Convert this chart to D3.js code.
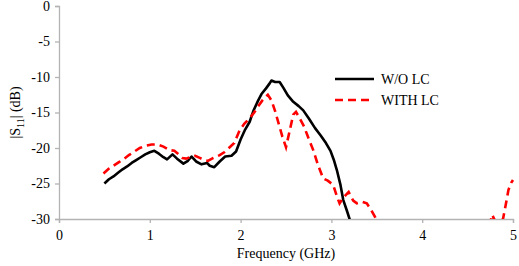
<!DOCTYPE html>
<html>
<head>
<meta charset="utf-8">
<script src="https://cdn.jsdelivr.net/npm/d3@7"></script>
<style>
  body { margin: 0; background: #fff; }
</style>
</head>
<body>
<div id="chart"></div>
<script>
// series (GHz, dB)
var woFreq = [0.50, 0.55, 0.60, 0.65, 0.70, 0.75, 0.80, 0.85, 0.90, 0.95, 1.00, 1.05, 1.10, 1.15, 1.19, 1.25, 1.30, 1.37, 1.42, 1.46,
  1.51, 1.57, 1.63, 1.66, 1.71, 1.77, 1.83, 1.90, 1.95, 2.00, 2.05, 2.10, 2.14, 2.19, 2.23, 2.28, 2.32, 2.34, 2.38, 2.43,
  2.47, 2.52, 2.58, 2.64, 2.69, 2.75, 2.82, 2.88, 2.94, 2.99, 3.03, 3.06, 3.10, 3.13, 3.17, 3.20, 3.22];
var woS11 = [-25.0, -24.4, -24.0, -23.5, -23.0, -22.6, -22.1, -21.7, -21.3, -20.9, -20.6, -20.4, -20.8, -21.3, -21.6, -20.9, -21.5, -22.2, -21.8, -21.2,
  -21.9, -22.3, -22.1, -22.5, -22.7, -21.9, -21.2, -21.1, -20.5, -18.8, -17.4, -16.3, -14.8, -13.4, -12.4, -11.6, -10.9, -10.5, -10.7, -10.7,
  -11.5, -12.6, -13.5, -14.1, -14.7, -15.8, -17.2, -18.2, -19.3, -20.4, -21.8, -23.1, -25.2, -27.3, -28.8, -30.0, -31.0];

var lcFreq = [0.49, 0.55, 0.60, 0.66, 0.71, 0.77, 0.83, 0.89, 0.95, 1.02, 1.08, 1.15, 1.22, 1.27, 1.31, 1.36, 1.40, 1.46, 1.50, 1.55,
  1.60, 1.64, 1.70, 1.77, 1.82, 1.88, 1.93, 1.99, 2.04, 2.10, 2.15, 2.19, 2.24, 2.30, 2.34, 2.38, 2.42, 2.46, 2.50, 2.54,
  2.58, 2.61, 2.65, 2.70, 2.75, 2.80, 2.85, 2.91, 2.96, 3.02, 3.06, 3.09, 3.13, 3.19, 3.24, 3.28, 3.34, 3.39, 3.44, 3.48, 3.52,
  4.10,
  4.74, 4.77, 4.80, 4.85, 4.89, 4.92, 4.95, 4.98, 5.00];
var lcS11 = [-23.6, -22.9, -22.5, -22.0, -21.6, -21.0, -20.5, -20.0, -19.7, -19.5, -19.5, -19.8, -20.3, -20.4, -20.8, -21.4, -21.5, -21.2, -21.1, -21.4,
  -21.7, -21.8, -21.4, -21.0, -20.6, -19.9, -19.3, -17.5, -16.6, -15.8, -15.0, -14.2, -13.3, -12.5, -13.3, -14.8, -16.6, -18.4, -19.9, -17.6,
  -15.3, -14.9, -15.8, -17.0, -18.7, -20.3, -22.3, -24.3, -24.6, -25.2, -26.8, -27.8, -27.0, -26.2, -27.4, -27.8, -27.6, -27.8, -28.8, -29.7, -31.0,
  null,
  -31.0, -29.4, -30.2, -30.5, -30.0, -28.0, -25.9, -24.9, -24.5];

var xTicks = [0, 1, 2, 3, 4, 5];
var yTicks = [0, -5, -10, -15, -20, -25, -30];
var seriesNames = ["W/O LC", "WITH LC"];

var W = 519, H = 266;
var margin = { top: 6, right: 6, bottom: 47, left: 59 };
var serif = "Liberation Serif";

var svg = d3.select("#chart").append("svg")
    .attr("width", W)
    .attr("height", H)
    .attr("font-family", serif);

var x = d3.scaleLinear().domain([0, 5]).range([margin.left, W - margin.right]);
var y = d3.scaleLinear().domain([-30, 0]).range([H - margin.bottom, margin.top]);

svg.append("defs").append("clipPath").attr("id", "clip")
    .append("rect")
    .attr("x", x(0)).attr("y", y(0))
    .attr("width", x(5) - x(0) + 2)
    .attr("height", y(-30) - y(0));

// axes
var xAxis = svg.append("g")
    .attr("transform", "translate(0," + y(-30) + ")")
    .call(d3.axisBottom(x).tickValues(xTicks).tickSize(4).tickPadding(5).tickFormat(d3.format("d")));
var yAxis = svg.append("g")
    .attr("transform", "translate(" + x(0) + ",0)")
    .call(d3.axisLeft(y).tickValues(yTicks).tickSize(4).tickPadding(5).tickFormat(function (d) { return d; }));

[xAxis, yAxis].forEach(function (a) {
    a.attr("font-family", serif).attr("font-size", 14);
    a.select(".domain").attr("stroke", "#b3b3b3").attr("stroke-width", 1.3);
    a.selectAll(".tick line").attr("stroke", "#b3b3b3").attr("stroke-width", 1.3);
    a.selectAll(".tick text").attr("fill", "#000");
});
xAxis.selectAll(".tick text").attr("dy", "0.85em");

var line = d3.line()
    .defined(function (d) { return d[1] !== null; })
    .x(function (d) { return x(d[0]); })
    .y(function (d) { return y(d[1]); });

var plot = svg.append("g").attr("clip-path", "url(#clip)");

plot.append("path")
    .datum(woFreq.map(function (f, i) { return [f, woS11[i]]; }))
    .attr("fill", "none")
    .attr("stroke", "#000")
    .attr("stroke-width", 2.6)
    .attr("stroke-linejoin", "round")
    .attr("d", line);

plot.append("path")
    .datum(lcFreq.map(function (f, i) { return [f, lcS11[i]]; }))
    .attr("fill", "none")
    .attr("stroke", "#ff0000")
    .attr("stroke-width", 2.6)
    .attr("stroke-dasharray", "8,5")
    .attr("d", line);

// legend
var legend = svg.append("g");
[{ c: "#000", dash: null }, { c: "#ff0000", dash: "8,5" }].forEach(function (s, i) {
    var ly = 79 + i * 21;
    legend.append("line")
        .attr("x1", 335).attr("x2", 374)
        .attr("y1", ly).attr("y2", ly)
        .attr("stroke", s.c)
        .attr("stroke-width", 2.6)
        .attr("stroke-dasharray", s.dash);
    legend.append("text")
        .attr("x", 381).attr("y", ly + 5)
        .attr("font-size", 14)
        .text(seriesNames[i]);
});

// axis titles
svg.append("text")
    .attr("x", (x(0) + x(5)) / 2)
    .attr("y", 258)
    .attr("text-anchor", "middle")
    .attr("font-size", 14)
    .text("Frequency (GHz)");

var yt = svg.append("text")
    .attr("transform", "translate(20," + (y(-15)) + ") rotate(-90)")
    .attr("text-anchor", "middle")
    .attr("font-size", 14);
yt.append("tspan").text("|S");
yt.append("tspan").attr("dy", 4).attr("font-size", 10).text("11");
yt.append("tspan").attr("dy", -4).text("| (dB)");
</script>
</body>
</html>
